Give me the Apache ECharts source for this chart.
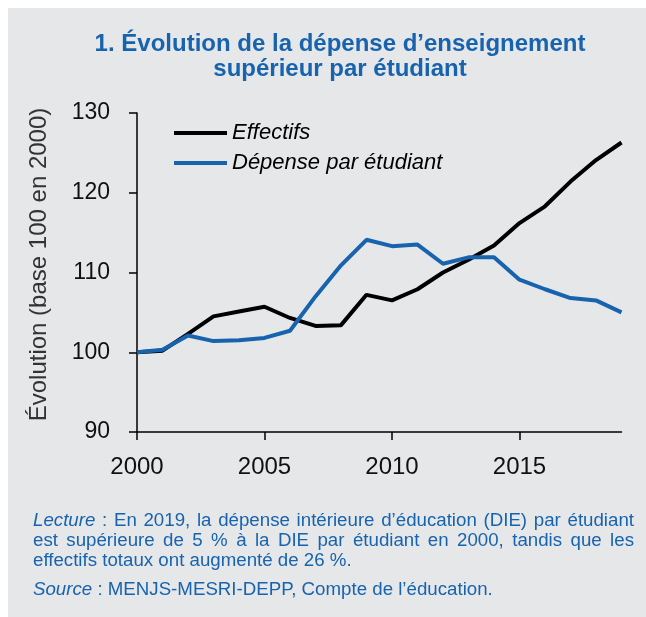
<!DOCTYPE html>
<html>
<head>
<meta charset="utf-8">
<script src="https://cdn.jsdelivr.net/npm/echarts@6/dist/echarts.min.js"></script>
<style>
    html, body { margin: 0; padding: 0; background: #fff; }
    #main { width: 646px; height: 617px; }
</style>
</head>
<body>
<div id="main"></div>
<script>
    // données (base 100 en 2000)
    var years = ['2000','2001','2002','2003','2004','2005','2006','2007','2008','2009',
                 '2010','2011','2012','2013','2014','2015','2016','2017','2018','2019'];
    var effectifs = [100, 100.2, 102.3, 104.5, 105.1, 105.7, 104.3, 103.3, 103.4, 107.2,
                     106.5, 107.9, 110.0, 111.6, 113.4, 116.2, 118.3, 121.4, 124.1, 126.3];
    var depense = [100, 100.3, 102.1, 101.4, 101.5, 101.8, 102.7, 107.0, 110.9, 114.1,
                   113.3, 113.5, 111.1, 111.9, 111.9, 109.1, 107.9, 106.8, 106.5, 105.0];
    var seriesNames = ['Effectifs', 'Dépense par étudiant'];

    // note de lecture : [texte, italique]
    var noteLines = [
        [['Lecture', true], [':', false], ['En 2019, la dépense intérieure d’éducation (DIE) par étudiant', false]],
        [['est supérieure de 5 % à la DIE par étudiant en 2000, tandis que les', false]],
        [['effectifs totaux ont augmenté de 26 %.', false]],
        [['Source', true], [':', false], ['MENJS-MESRI-DEPP, Compte de l’éducation.', false]]
    ];

    var blue = '#1763ae';
    var font = '"Liberation Sans", Arial, sans-serif';
    var noteSize = 18.7;

    // texte justifié : un élément par mot
    var ctx = document.createElement('canvas').getContext('2d');
    function wordWidth(w, italic) {
        ctx.font = (italic ? 'italic ' : '') + noteSize + 'px ' + font;
        return ctx.measureText(w).width;
    }
    function noteElements(line, y, justify) {
        var words = [];
        line.forEach(function (p) {
            p[0].split(' ').forEach(function (w) { words.push({ t: w, it: p[1] }); });
        });
        var total = 0;
        words.forEach(function (w) { w.w = wordWidth(w.t, w.it); total += w.w; });
        var left = 33, right = 634;
        var gap = justify ? (right - left - total) / (words.length - 1) : wordWidth(' ', false);
        var x = left, els = [];
        words.forEach(function (w) {
            els.push({
                type: 'text',
                x: x,
                y: y,
                style: {
                    text: w.t,
                    fill: blue,
                    font: (w.it ? 'italic ' : '') + noteSize + 'px ' + font,
                    verticalAlign: 'middle'
                }
            });
            x += w.w + gap;
        });
        return els;
    }

    var graphics = [{
        type: 'rect',
        z: -10,
        shape: { x: 8, y: 8, width: 638, height: 609 },
        style: { fill: '#e6e7e9' }
    }];
    graphics = graphics.concat(noteElements(noteLines[0], 521, true));
    graphics = graphics.concat(noteElements(noteLines[1], 541, true));
    graphics = graphics.concat(noteElements(noteLines[2], 561, false));
    graphics = graphics.concat(noteElements(noteLines[3], 590, false));

    var myChart = echarts.init(document.getElementById('main'));

    var option = {
        backgroundColor: '#fff',
        textStyle: { fontFamily: font },
        title: {
            text: '1. Évolution de la dépense d’enseignement\nsupérieur par étudiant',
            left: 335,
            top: 27,
            textAlign: 'center',
            textStyle: {
                color: blue,
                fontSize: 24,
                fontWeight: 'bold',
                lineHeight: 25,
                fontFamily: font
            }
        },
        legend: {
            orient: 'vertical',
            left: 169,
            top: 116,
            icon: 'rect',
            itemWidth: 53,
            itemHeight: 4,
            itemGap: 6,
            data: seriesNames,
            textStyle: {
                color: '#000',
                fontSize: 22,
                fontStyle: 'italic',
                lineHeight: 24,
                padding: [0, 0, 0, 0]
            }
        },
        grid: {
            left: 137,
            top: 113,
            right: 24.5,
            bottom: 185
        },
        xAxis: {
            type: 'category',
            boundaryGap: false,
            data: years,
            axisLine: { lineStyle: { color: '#000', width: 1.5 } },
            axisTick: { interval: 4, length: 8, lineStyle: { color: '#000', width: 1.5 } },
            axisLabel: { interval: 4, margin: 23, color: '#111', fontSize: 24 },
            splitLine: { show: false }
        },
        yAxis: {
            type: 'value',
            min: 90,
            max: 130,
            interval: 10,
            name: 'Évolution (base 100 en 2000)',
            nameLocation: 'middle',
            nameGap: 86,
            nameTextStyle: { color: '#333', fontSize: 24, padding: [0, 0, 0, 16] },
            axisLine: { show: true, lineStyle: { color: '#000', width: 1.5 } },
            axisTick: { show: true, length: 8, lineStyle: { color: '#000', width: 1.5 } },
            axisLabel: { margin: 27, color: '#111', fontSize: 23 },
            splitLine: { show: false }
        },
        graphic: graphics,
        series: [
            {
                name: seriesNames[0],
                type: 'line',
                data: effectifs,
                symbol: 'none',
                lineStyle: { color: '#000', width: 4 },
                itemStyle: { color: '#000' }
            },
            {
                name: seriesNames[1],
                type: 'line',
                data: depense,
                symbol: 'none',
                lineStyle: { color: blue, width: 4 },
                itemStyle: { color: blue }
            }
        ]
    };

    myChart.setOption(option);
</script>
</body>
</html>
